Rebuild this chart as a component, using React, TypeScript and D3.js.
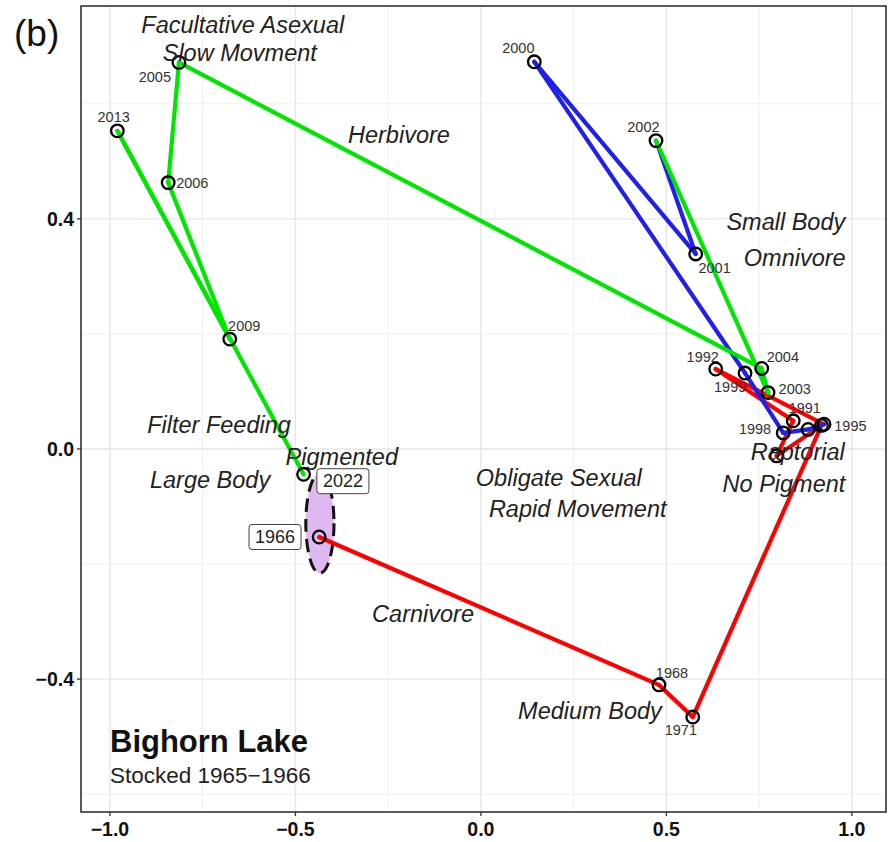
import React from "react";
import * as d3 from "d3";

// ---------- data ----------
const pointYears = ["1966", "1968", "1971", "", "", "1991", "1992", "1995", "", "1998", "1999", "2000", "2001", "2002", "2003", "2004", "2005", "2006", "2009", "2013", "2022"];
const pointX = [-0.436, 0.480, 0.571, 0.918, 0.797, 0.842, 0.633, 0.925, 0.882, 0.815, 0.712, 0.144, 0.579, 0.472, 0.774, 0.757, -0.814, -0.843, -0.677, -0.980, -0.478];
const pointY = [-0.153, -0.410, -0.466, 0.041, -0.012, 0.049, 0.139, 0.043, 0.034, 0.028, 0.132, 0.673, 0.339, 0.536, 0.098, 0.140, 0.672, 0.463, 0.191, 0.553, -0.044];
// period of the segment that starts at each point
const pointPeriod = ["early", "early", "early", "early", "early", "early", "early", "mid", "mid", "mid", "mid", "mid", "mid", "late", "late", "late", "late", "late", "late", "late", "late"];
// year label anchors (data units); boxed labels for the first/last years
const labelX = [-0.555, 0.515, 0.539, 0, 0, 0.873, 0.598, 0.996, 0, 0.739, 0.672, 0.101, 0.630, 0.438, 0.846, 0.814, -0.879, -0.778, -0.638, -0.990, -0.372];
const labelY = [-0.153, -0.389, -0.489, 0, 0, 0.071, 0.160, 0.040, 0, 0.034, 0.108, 0.697, 0.315, 0.560, 0.104, 0.160, 0.647, 0.462, 0.214, 0.577, -0.056];
const boxedYears = ["1966", "2022"];

const periodColor: Record<string, string> = { early: "#ff0000", mid: "#2020e8", late: "#00e600" };
const periodOrder = ["early", "mid", "late"];

const annotText = ["Facultative Asexual", "Slow Movment", "Herbivore", "Small Body", "Omnivore", "Filter Feeding", "Pigmented", "Large Body", "Obligate Sexual", "Rapid Movement", "Raptorial", "No Pigment", "Carnivore", "Medium Body"];
const annotX = [-0.642, -0.650, -0.221, 0.822, 0.846, -0.706, -0.375, -0.730, 0.210, 0.261, 0.854, 0.817, -0.156, 0.294];
const annotY = [0.737, 0.689, 0.546, 0.395, 0.332, 0.042, -0.014, -0.054, -0.050, -0.104, -0.005, -0.061, -0.287, -0.456];

const ellipseCenter = [-0.434, -0.129];
const ellipseRadii = [0.038, 0.087];

const xMajor = [-1.0, -0.5, 0.0, 0.5, 1.0];
const xMinor = [-0.75, -0.25, 0.25, 0.75];
const yMajor = [-0.4, 0.0, 0.4];
const yMinor = [-0.6, -0.2, 0.2, 0.6];
const xDomain = [-1.078, 1.092];
const yDomain = [0.770, -0.631];

const panelTag = "(b)";
const lakeName = "Bighorn Lake";
const lakeNote = "Stocked 1965\u22121966";

const FONT = '"Liberation Sans", Arial, Helvetica, sans-serif';

export default function App() {
  const W = 893, H = 842;
  const left = 81, right = 886, top = 6, bottom = 812;
  const x = d3.scaleLinear().domain(xDomain).range([left, right]);
  const y = d3.scaleLinear().domain(yDomain).range([top, bottom]);
  const fmt = d3.format(".1f");

  const pts = pointYears.map((yr, i) => ({ yr, x: pointX[i], y: pointY[i], period: pointPeriod[i], lx: labelX[i], ly: labelY[i] }));
  const line = d3.line<any>().x((d) => x(d.x)).y((d) => y(d.y));
  const segs = pts.slice(0, -1).map((p, i) => ({ a: p, b: pts[i + 1], period: p.period }));

  return (
    <svg width={W} height={H} style={{ position: "absolute", left: 0, top: 0, background: "#fff" }} fontFamily={FONT}>
      <rect x={0} y={0} width={W} height={H} fill="#fff" />
      {/* grid */}
      {xMinor.map((v) => <line key={"xm" + v} x1={x(v)} x2={x(v)} y1={top} y2={bottom} stroke="#f0f0f0" strokeWidth={1} />)}
      {yMinor.map((v) => <line key={"ym" + v} y1={y(v)} y2={y(v)} x1={left} x2={right} stroke="#f0f0f0" strokeWidth={1} />)}
      {xMajor.map((v) => <line key={"xM" + v} x1={x(v)} x2={x(v)} y1={top} y2={bottom} stroke="#e6e6e6" strokeWidth={1.4} />)}
      {yMajor.map((v) => <line key={"yM" + v} y1={y(v)} y2={y(v)} x1={left} x2={right} stroke="#e6e6e6" strokeWidth={1.4} />)}

      {/* ellipse */}
      <ellipse cx={x(ellipseCenter[0])} cy={y(ellipseCenter[1])}
        rx={x(ellipseCenter[0] + ellipseRadii[0]) - x(ellipseCenter[0])}
        ry={y(ellipseCenter[1] - ellipseRadii[1]) - y(ellipseCenter[1])}
        fill="#dfb8f2" stroke="#111" strokeWidth={3} strokeDasharray="13 7" />

      {/* trajectory */}
      {periodOrder.map((per) => (
        <g key={per}>
          {segs.filter((s) => s.period === per).map((s, i) => (
            <path key={i} d={line([s.a, s.b]) || ""} stroke={periodColor[per]} strokeWidth={4.2} fill="none" strokeLinecap="round" />
          ))}
        </g>
      ))}

      {/* points */}
      {pts.map((p, i) => <circle key={i} cx={x(p.x)} cy={y(p.y)} r={6.3} fill="none" stroke="#000" strokeWidth={2.3} />)}

      {/* annotations */}
      {annotText.map((t, i) => (
        <text key={t} x={x(annotX[i])} y={y(annotY[i])} textAnchor="middle" dominantBaseline="central" fontStyle="italic" fontSize={23.5} fill="#222">{t}</text>
      ))}

      {/* year labels */}
      {pts.filter((p) => p.yr && !boxedYears.includes(p.yr)).map((p) => (
        <text key={p.yr} x={x(p.lx)} y={y(p.ly)} textAnchor="middle" dominantBaseline="central" fontSize={14.5} fill="#333">{p.yr}</text>
      ))}
      {pts.filter((p) => boxedYears.includes(p.yr)).map((p) => (
        <g key={p.yr}>
          <rect x={x(p.lx) - 26} y={y(p.ly) - 12.5} width={52} height={25} rx={3} fill="#fff" stroke="#444" strokeWidth={1} />
          <text x={x(p.lx)} y={y(p.ly)} textAnchor="middle" dominantBaseline="central" fontSize={18} fill="#222">{p.yr}</text>
        </g>
      ))}

      {/* panel border */}
      <rect x={left} y={top} width={right - left} height={bottom - top} fill="none" stroke="#333" strokeWidth={1.6} />

      {/* axes ticks */}
      {xMajor.map((v) => (
        <g key={"xt" + v}>
          <line x1={x(v)} x2={x(v)} y1={bottom} y2={bottom + 4} stroke="#333" strokeWidth={1.3} />
          <text x={x(v)} y={bottom + 17} textAnchor="middle" dominantBaseline="central" fontWeight="bold" fontSize={19.5} fill="#111">{fmt(v)}</text>
        </g>
      ))}
      {yMajor.map((v) => (
        <g key={"yt" + v}>
          <line x1={left - 4} x2={left} y1={y(v)} y2={y(v)} stroke="#333" strokeWidth={1.3} />
          <text x={left - 7} y={y(v)} textAnchor="end" dominantBaseline="central" fontWeight="bold" fontSize={19.5} fill="#111">{fmt(v)}</text>
        </g>
      ))}

      {/* titles */}
      <text x={14} y={46} fontSize={37} fill="#111">{panelTag}</text>
      <text x={110} y={752} fontSize={31} fontWeight="bold" fill="#111">{lakeName}</text>
      <text x={110} y={783} fontSize={22.5} fill="#222">{lakeNote}</text>
    </svg>
  );
}
